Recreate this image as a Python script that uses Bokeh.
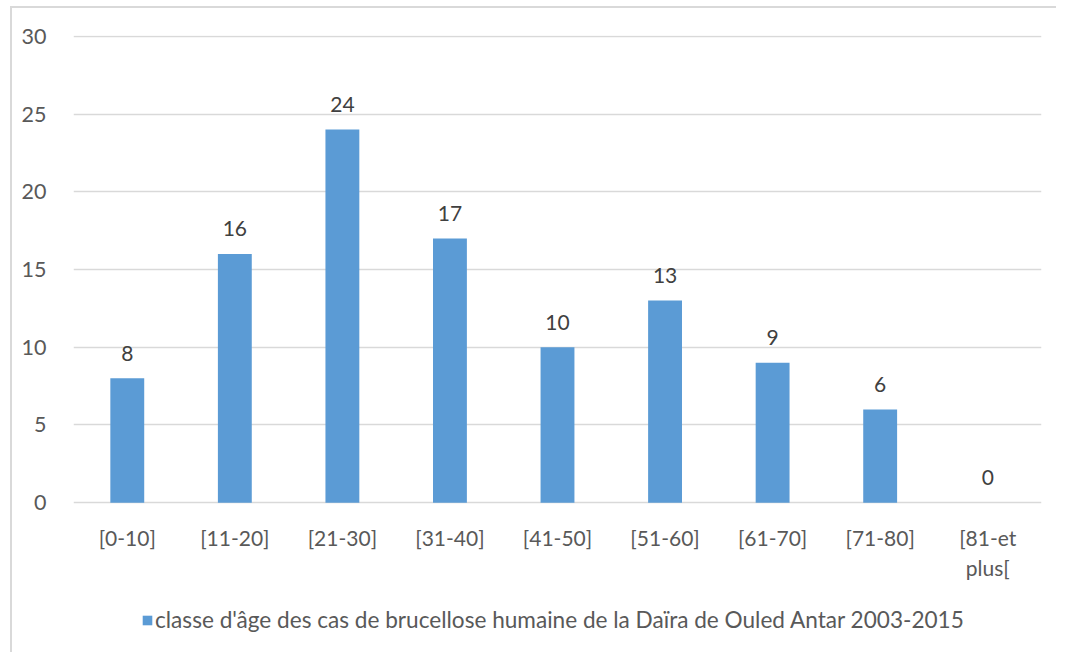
from bokeh.plotting import figure
from bokeh.models import ColumnDataSource, Range1d, FactorRange, Legend, LegendItem, FixedTicker
from bokeh.core.properties import value
from bokeh.embed import file_html
from bokeh.resources import INLINE

categories = ["[0-10]", "[11-20]", "[21-30]", "[31-40]", "[41-50]", "[51-60]", "[61-70]", "[71-80]", "[81-et\nplus["]
counts = [8, 16, 24, 17, 10, 13, 9, 6, 0]
labels = [str(c) for c in counts]
y_ticks = [0, 5, 10, 15, 20, 25, 30]
series_name = "classe d'âge des cas de brucellose humaine de la Daïra de Ouled Antar 2003-2015"

FONT = "Lato"
src = ColumnDataSource(dict(cat=categories, val=counts, lab=labels))

# frame spans from the 30-line down to the bottom of the page; 0..30 occupies 468 px
FRAME_H = 617
ppu = 468 / 30.1
y_bottom = 30.05 - FRAME_H / ppu

p = figure(frame_width=968, frame_height=FRAME_H, output_backend="svg", toolbar_location=None,
           x_range=FactorRange(factors=categories, range_padding=0),
           y_range=Range1d(y_bottom, 30.05),
           min_border_left=63, min_border_right=15, min_border_top=29, min_border_bottom=0)
p.margin = (6, 0, 0, 10)
p.styles = {"box-shadow": "inset 2px 2px 0 0 #d9d9d9"}
p.outline_line_color = None
p.background_fill_color = "white"
p.border_fill_alpha = 0

bars = p.vbar(x="cat", top="val", width=0.315, source=src, fill_color="#5b9bd5", line_color=None)
p.text(x="cat", y="val", text="lab", source=src, text_align="center", text_baseline="middle",
       y_offset=-25, text_font=value(FONT), text_font_size="21px", text_color="#404040")

p.xgrid.grid_line_color = None
p.ygrid.grid_line_color = "#d9d9d9"
p.ygrid.grid_line_width = 1.5
p.yaxis.ticker = FixedTicker(ticks=y_ticks)
p.xaxis.fixed_location = 0
for ax in (p.xaxis, p.yaxis):
    ax.axis_line_color = None
    ax.major_tick_line_color = None
    ax.minor_tick_line_color = None
    ax.major_label_text_font = FONT
    ax.major_label_text_color = "#595959"
p.yaxis.major_label_text_font_size = "21.5px"
p.xaxis.major_label_text_font_size = "21px"
p.yaxis.major_label_standoff = 21
p.xaxis.major_label_standoff = 16

legend = Legend(items=[LegendItem(label=series_name, renderers=[bars])], location=(68, 19),
                orientation="horizontal", label_text_font=FONT, label_text_font_size="22.6px",
                label_text_color="#595959", glyph_width=12, glyph_height=12, label_standoff=2,
                border_line_color=None, background_fill_alpha=0, margin=0, padding=0)
p.add_layout(legend, "center")

open("out.html", "w").write(file_html(p, INLINE))
